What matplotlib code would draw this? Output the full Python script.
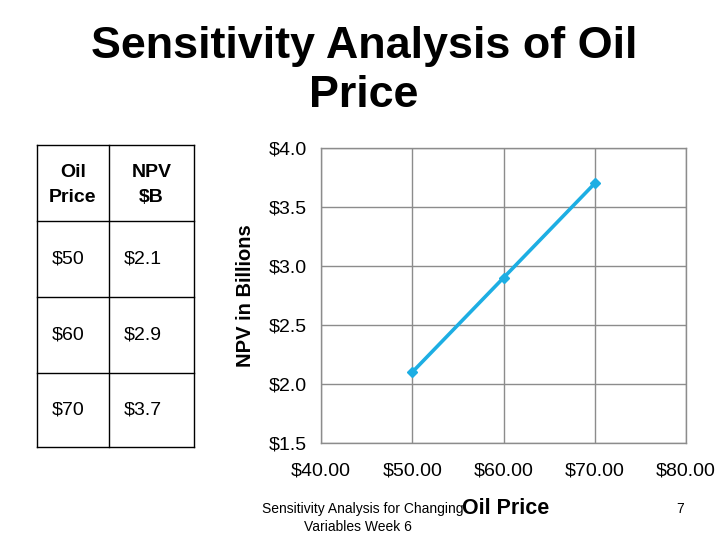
import matplotlib
matplotlib.use("Agg")
import matplotlib.pyplot as plt
from matplotlib.lines import Line2D
from matplotlib.ticker import FuncFormatter

plt.rcParams['font.family'] = ['Liberation Sans', 'DejaVu Sans']

# Data
oil_price = [50, 60, 70]
npv = [2.1, 2.9, 3.7]
table_header = ["Oil\nPrice", "NPV\n$B"]
table_rows = [["$50", "$2.1"], ["$60", "$2.9"], ["$70", "$3.7"]]
x_ticks = [40, 50, 60, 70, 80]
y_ticks = [1.5, 2.0, 2.5, 3.0, 3.5, 4.0]

W, H = 728, 546
fig = plt.figure(figsize=(7.28, 5.46), dpi=100)

def fx(px):
    return px / W

def fy(py):
    return 1 - py / H

# Title
fig.text(0.5, fy(71), "Sensitivity Analysis of Oil\nPrice", ha='center', va='center',
         fontsize=32.3, fontweight='bold', linespacing=1.25)

# Chart
ax = fig.add_axes([fx(321), fy(443), fx(686) - fx(321), fy(148) - fy(443)])
ax.plot(oil_price, npv, color='#1DAEE3', lw=2.6, marker='D', markersize=5.5)
ax.set_xlim(40, 80)
ax.set_ylim(1.5, 4.0)
ax.set_xticks(x_ticks)
ax.set_yticks(y_ticks)
ax.xaxis.set_major_formatter(FuncFormatter(lambda v, p: f"${v:.2f}"))
ax.yaxis.set_major_formatter(FuncFormatter(lambda v, p: f"${v:.1f}"))
ax.grid(True, color='#8c8c8c', lw=1.0)
ax.set_axisbelow(True)
for s in ax.spines.values():
    s.set_color('#8c8c8c')
    s.set_linewidth(1.0)
ax.tick_params(axis='both', length=0, labelsize=14)
ax.tick_params(axis='y', pad=10)
ax.tick_params(axis='x', pad=14)
ax.set_ylabel("NPV in Billions", fontsize=14.5, fontweight='bold', labelpad=10)

# X label (as in reference, placed below)
fig.text(fx(506), fy(509), "Oil Price", ha='center', va='center', fontsize=15.5, fontweight='bold')

# Footer
fig.text(fx(363), fy(509), "Sensitivity Analysis for Changing", ha='center', va='center', fontsize=10)
fig.text(fx(358), fy(527), "Variables Week 6", ha='center', va='center', fontsize=10)
fig.text(fx(680), fy(509), "7", ha='center', va='center', fontsize=10)

# Table
tx = [37, 109, 194]
ty = [145, 221, 297, 373, 447]
for x in tx:
    fig.add_artist(Line2D([fx(x), fx(x)], [fy(ty[0]), fy(ty[-1])], color='black', lw=1.0))
for y in ty:
    fig.add_artist(Line2D([fx(tx[0]), fx(tx[-1])], [fy(y), fy(y)], color='black', lw=1.0))

for j, h in enumerate(table_header):
    cx = (tx[j] + tx[j + 1]) / 2
    cy = (ty[0] + ty[1]) / 2 + 2
    fig.text(fx(cx), fy(cy), h, ha='center', va='center', fontsize=14,
             fontweight='bold', linespacing=1.55)
for i, row in enumerate(table_rows):
    cy = (ty[i + 1] + ty[i + 2]) / 2
    for j, val in enumerate(row):
        fig.text(fx(tx[j] + 15), fy(cy), val, ha='left', va='center', fontsize=14)

fig.savefig("out.png", dpi=100)
